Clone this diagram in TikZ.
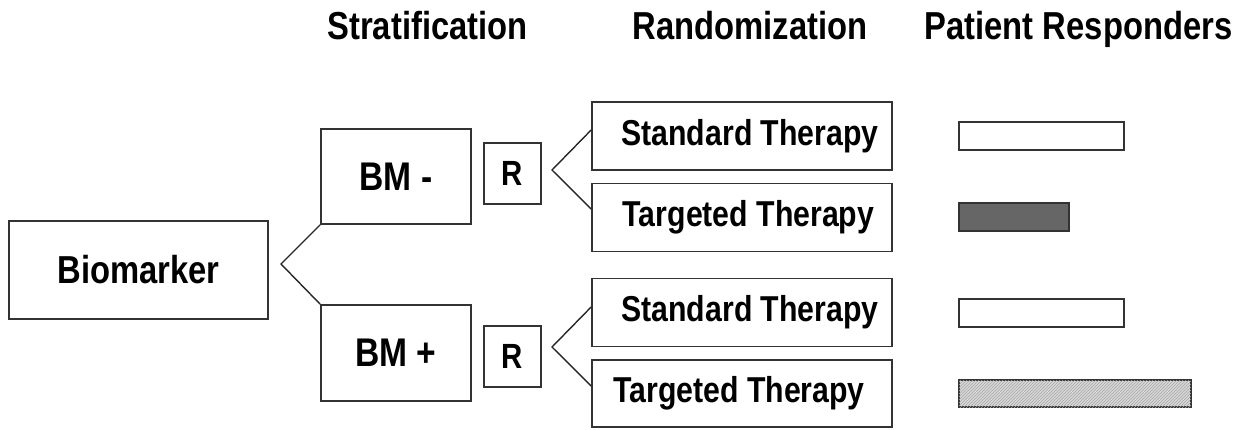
\documentclass[tikz,border=0pt]{standalone}
\usepackage{fontspec}
\setmainfont{Liberation Sans}[FakeStretch=0.84]
\usetikzlibrary{patterns,calc}

\begin{document}
\begin{tikzpicture}[x=1pt,y=-1pt,
  box/.style={draw=black!80,line width=1.7pt,fill=white,rectangle,inner sep=0pt,
              font=\bfseries},
  link/.style={draw=black!85,line width=1.4pt,line join=miter},
  header/.style={anchor=base,font=\fontsize{39}{42}\selectfont\bfseries},
  bar/.style={draw=black!80,line width=1.8pt,inner sep=0pt,anchor=west,minimum height=28pt}
]
\useasboundingbox (0,0) rectangle (1245,429);

% column titles
\node[header] (hs) at (427.5,39) {Stratification};
\node[header] (hr) at (750,39) {Randomization};
\node[header] (hp) at (1078.5,39) {Patient Responders};

% biomarker and strata
\node[box,minimum width=259pt,minimum height=98pt,font=\fontsize{39}{42}\selectfont\bfseries]
  (bio) at (138.5,270) {Biomarker};
\node[box,minimum width=150pt,minimum height=95pt,font=\fontsize{40}{42}\selectfont\bfseries]
  (bmn) at (396,176.5) {BM -};
\node[box,minimum width=150pt,minimum height=96pt,font=\fontsize{40}{42}\selectfont\bfseries]
  (bmp) at (396,353) {BM +};

% randomisation boxes
\node[box,minimum width=57pt,minimum height=61pt,font=\fontsize{35}{38}\selectfont\bfseries]
  (rn) at (512.5,173.5) {R};
\node[box,minimum width=57pt,minimum height=61pt,font=\fontsize{35}{38}\selectfont\bfseries]
  (rp) at (512.5,356.5) {R};

% therapy arms
\tikzset{arm/.style={box,minimum width=300pt,minimum height=68pt,
  font=\fontsize{36}{38}\selectfont\bfseries}}
\node[arm] (sn) at (742,136) {\hspace*{16pt}Standard Therapy};
\node[arm] (tn) at (742,217.5) {\hspace*{13pt}Targeted Therapy};
\node[arm] (sp) at (742,312.5) {\hspace*{16pt}Standard Therapy};
\node[arm,minimum height=67pt] (tp) at (742,393.5) {\hspace*{-6pt}Targeted Therapy};

% branching connectors
\coordinate (ab) at (281,264);
\coordinate (an) at (552,170);
\coordinate (ap) at (552,347);
\draw[link] (bmn.south west) -- (ab) -- (bmp.north west);
\draw[link] ([yshift=6pt]sn.west) -- (an) -- ([yshift=8.5pt]tn.west);
\draw[link] ([yshift=5.5pt]sp.west) -- (ap) -- ([yshift=7.5pt]tp.west);

% responder bars
\node[bar,fill=white,minimum width=165pt] (b1) at (958,136) {};
\node[bar,fill=black!60,minimum width=110pt] (b2) at (958,217) {};
\node[bar,fill=white,minimum width=165pt] (b3) at (958,313) {};
\node[bar,fill=black!15,minimum width=232pt,minimum height=27pt,
      postaction={pattern=north east lines,pattern color=black!35}] (b4) at (958,393.5) {};
\end{tikzpicture}
\end{document}
